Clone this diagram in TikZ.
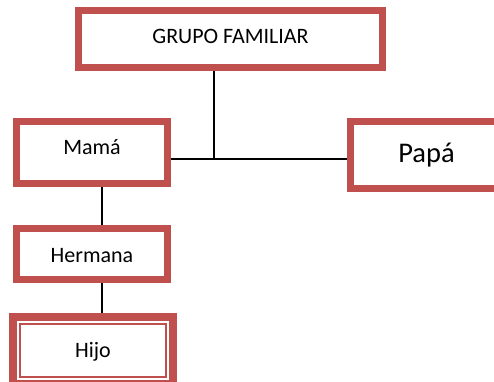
\documentclass[tikz,border=0pt]{standalone}
\usepackage{fontspec}
\setmainfont{Carlito}
\usetikzlibrary{backgrounds}
\definecolor{boxred}{HTML}{C0504D}
\begin{document}
\begin{tikzpicture}[x=1pt,y=-1pt,
  box/.style={draw=boxred, line width=7pt, fill=white, rectangle, inner sep=0pt,
    font=\fontsize{22}{26}\selectfont, align=center},
  conn/.style={line width=1.6pt, draw=black}]
\useasboundingbox (0,0) rectangle (494,381);
\clip (0,0) rectangle (494,381);
\node[box, minimum width=304pt, minimum height=57pt, text height=14pt, text depth=6pt] (grupo) at (230.5,39) {GRUPO FAMILIAR};
\node[box, minimum width=151pt, minimum height=62pt, text height=10pt, text depth=7pt] (mama) at (92,152.5) {Mamá};
\node[box, minimum width=152pt, minimum height=67pt, text height=20pt, text depth=6pt, font=\fontsize{28.5}{32}\selectfont] (papa) at (426.5,155) {Papá};
\node[box, minimum width=151pt, minimum height=51pt, text height=20pt, text depth=4pt] (hermana) at (92,254) {Hermana};
\node[box, line width=8pt, minimum width=160pt, minimum height=67pt, text height=19pt, text depth=6pt] (hijo) at (93,350.5) {Hijo};
\draw[boxred, line width=2pt] ([xshift=11pt,yshift=-11pt]hijo.north west) rectangle ([xshift=-11pt,yshift=11pt]hijo.south east);
\coordinate (j) at (214,159);
\coordinate (k) at (102,200);
\begin{scope}[on background layer]
\draw[conn] (grupo.south -| j) -- (j);
\draw[conn] (mama.east |- j) -- (papa.west |- j);
\draw[conn] (mama.south -| k) -- (hermana.north -| k);
\draw[conn] (hermana.south -| k) -- (hijo.north -| k);
\end{scope}
\end{tikzpicture}
\end{document}
